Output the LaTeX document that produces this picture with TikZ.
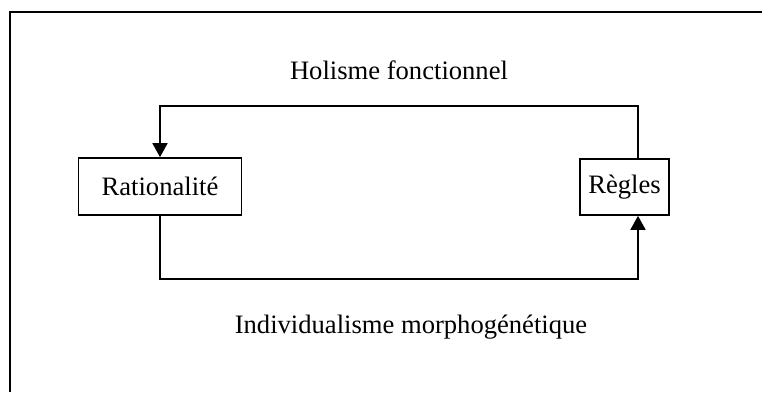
\documentclass[tikz,border=0pt]{standalone}
\usepackage{fontspec}
\setmainfont{Liberation Serif}
\usetikzlibrary{arrows.meta}
\begin{document}
\begin{tikzpicture}[x=1pt,y=-1pt,
  every node/.style={font=\fontsize{26.6}{32}\selectfont},
  box/.style={draw,line width=1.7pt,inner sep=0pt},
  conn/.style={line width=1.7pt},
  tip/.style={-{Triangle[length=14pt,width=15pt]}}]
\useasboundingbox (0,0) rectangle (762,392);
% frame (clipped on right and bottom)
\draw[line width=2pt] (9.5,392) -- (9.5,12) -- (762,12);
\node[box,minimum width=163pt,minimum height=57pt] (rat) at (160,186.5) {Rationalité};
\node[box,minimum width=89pt,minimum height=56pt] (reg) at (624.5,187) {Règles};
\coordinate (tl) at (160,106);
\coordinate (tr) at (638,106);
\coordinate (bl) at (160,279);
\coordinate (br) at (638,279);
\draw[conn,tip] (reg.north -| tr) -- (tr) -- (tl) -- (rat.north);
\draw[conn,tip] (rat.south) -- (bl) -- (br) -- (reg.south -| br);
\node[anchor=base] (hol) at (399,79) {Holisme fonctionnel};
\node[anchor=base] (ind) at (411,333) {Individualisme morphogénétique};
\end{tikzpicture}
\end{document}
